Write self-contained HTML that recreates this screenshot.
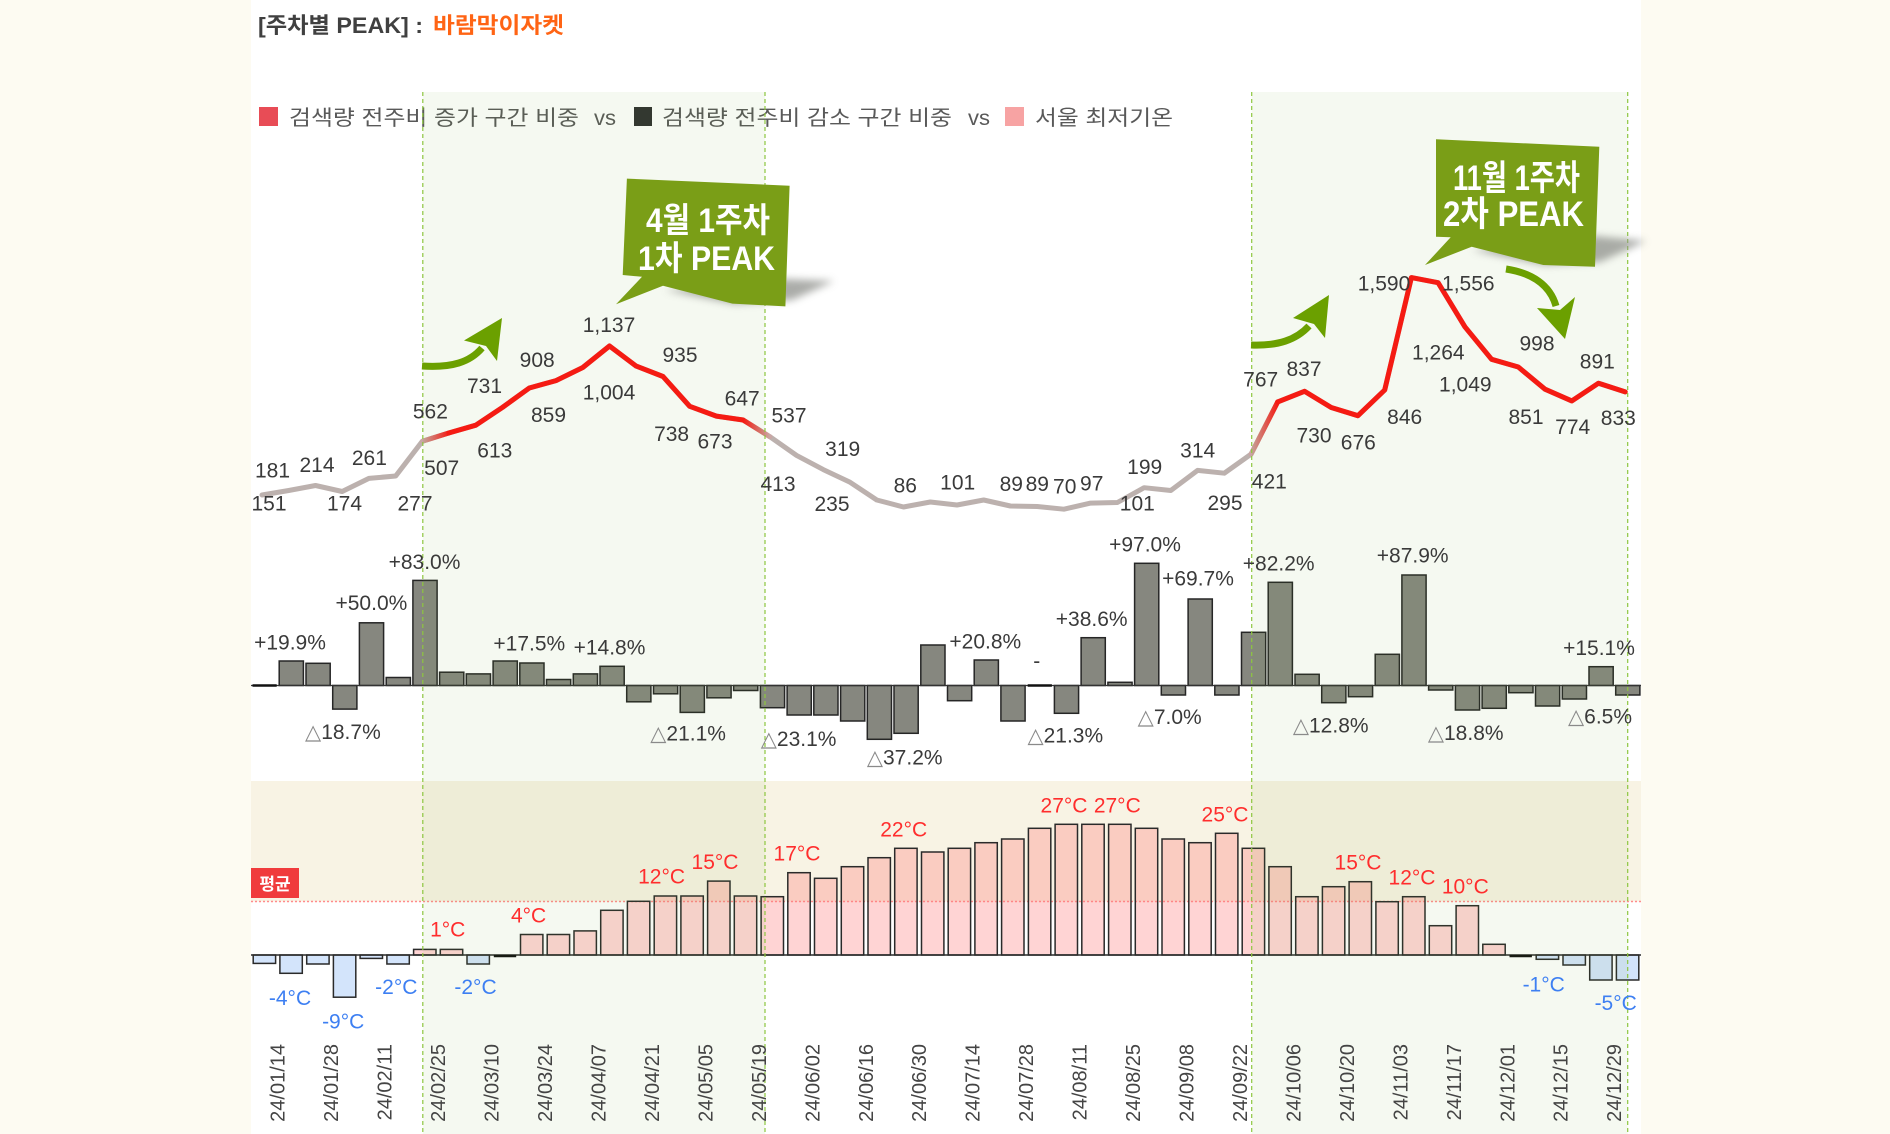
<!DOCTYPE html>
<html><head><meta charset="utf-8"><style>
html,body{margin:0;padding:0;background:#fdfbf2;}
svg{display:block;}
.n{font-family:"Liberation Sans","DejaVu Sans",sans-serif;font-size:21px;fill:#3a3a3a;text-anchor:middle;}
.p{font-family:"Liberation Sans","DejaVu Sans",sans-serif;font-size:21px;fill:#3a3a3a;text-anchor:middle;}
.tri{fill:#8a8a8a;font-family:"DejaVu Sans",sans-serif;}
.tr{font-family:"Liberation Sans","DejaVu Sans",sans-serif;font-size:21px;fill:#ff2d2d;text-anchor:middle;}
.tb{font-family:"Liberation Sans","DejaVu Sans",sans-serif;font-size:21px;fill:#3d7ff2;text-anchor:middle;}
.ax{font-family:"Liberation Sans","DejaVu Sans",sans-serif;font-size:20px;fill:#444;text-anchor:end;}
.kr{font-family:"Liberation Sans","Noto Sans CJK KR",sans-serif;}
</style></head><body>
<svg width="1890" height="1134" viewBox="0 0 1890 1134" xmlns="http://www.w3.org/2000/svg">
<defs>
<linearGradient id="g1" gradientUnits="userSpaceOnUse" x1="422.4" y1="0" x2="449.1" y2="0"><stop offset="0" stop-color="#c9a7a5"/><stop offset="1" stop-color="#ff1111"/></linearGradient>
<linearGradient id="g2" gradientUnits="userSpaceOnUse" x1="743.1" y1="0" x2="769.9" y2="0"><stop offset="0" stop-color="#ff1111"/><stop offset="1" stop-color="#c9a7a5"/></linearGradient>
<linearGradient id="g3" gradientUnits="userSpaceOnUse" x1="1251" y1="0" x2="1277.7" y2="0"><stop offset="0" stop-color="#c9a7a5"/><stop offset="1" stop-color="#ff1111"/></linearGradient>
<filter id="bl" x="-20%" y="-50%" width="140%" height="200%"><feGaussianBlur stdDeviation="4"/></filter>
</defs>
<rect x="0" y="0" width="1890" height="1134" fill="#fdfbf2"/>
<rect x="251" y="0" width="1390" height="1134" fill="#ffffff"/>

<!-- title -->
<text x="258" y="33" class="kr" font-size="22" font-weight="bold" fill="#404040" textLength="165" lengthAdjust="spacingAndGlyphs">[주차별 PEAK] :</text>
<text x="433" y="33" class="kr" font-size="22" font-weight="bold" fill="#ff6414" textLength="131" lengthAdjust="spacingAndGlyphs">바람막이자켓</text>

<!-- legend -->
<rect x="259" y="107" width="19" height="19" fill="#e84c56"/>
<text x="289" y="125" class="kr" font-size="21" fill="#595959" textLength="290" lengthAdjust="spacingAndGlyphs">검색량 전주비 증가 구간 비중</text>
<text x="594" y="125" class="kr" font-size="21" fill="#595959" textLength="22" lengthAdjust="spacingAndGlyphs">vs</text>
<rect x="634" y="107" width="18" height="19" fill="#2f3030"/>
<text x="662" y="125" class="kr" font-size="21" fill="#595959" textLength="290" lengthAdjust="spacingAndGlyphs">검색량 전주비 감소 구간 비중</text>
<text x="968" y="125" class="kr" font-size="21" fill="#595959" textLength="22" lengthAdjust="spacingAndGlyphs">vs</text>
<rect x="1005" y="107" width="19" height="19" fill="#f7a3a3"/>
<text x="1035" y="125" class="kr" font-size="21" fill="#595959" textLength="138" lengthAdjust="spacingAndGlyphs">서울 최저기온</text>

<!-- temperature band -->
<rect x="251" y="781" width="1390" height="120.5" fill="#f8f3e4"/>
<line x1="251" y1="901.5" x2="1641" y2="901.5" stroke="#ff8c8c" stroke-width="1.5" stroke-dasharray="2,2"/>

<!-- middle bars -->
<g fill="#86877f" stroke="#262626" stroke-width="1.5">
<rect x="279.2" y="661.0" width="24.2" height="24.5"/>
<rect x="306.0" y="663.3" width="24.2" height="22.2"/>
<rect x="332.7" y="685.5" width="24.2" height="23.6"/>
<rect x="359.4" y="622.8" width="24.2" height="62.7"/>
<rect x="386.2" y="677.5" width="24.2" height="8"/>
<rect x="412.9" y="580.4" width="24.2" height="105.1"/>
<rect x="439.6" y="672.2" width="24.2" height="13.3"/>
<rect x="466.3" y="673.9" width="24.2" height="11.6"/>
<rect x="493.1" y="661.0" width="24.2" height="24.5"/>
<rect x="519.8" y="663.0" width="24.2" height="22.5"/>
<rect x="546.5" y="679.5" width="24.2" height="6"/>
<rect x="573.3" y="673.9" width="24.2" height="11.6"/>
<rect x="600.0" y="666.3" width="24.2" height="19.2"/>
<rect x="626.7" y="685.5" width="24.2" height="16.3"/>
<rect x="653.5" y="685.5" width="24.2" height="8.3"/>
<rect x="680.2" y="685.5" width="24.2" height="26.9"/>
<rect x="706.9" y="685.5" width="24.2" height="12.3"/>
<rect x="733.6" y="685.5" width="24.2" height="5"/>
<rect x="760.4" y="685.5" width="24.2" height="22.2"/>
<rect x="787.1" y="685.5" width="24.2" height="29.5"/>
<rect x="813.8" y="685.5" width="24.2" height="29.5"/>
<rect x="840.6" y="685.5" width="24.2" height="35.5"/>
<rect x="867.3" y="685.5" width="24.2" height="53.8"/>
<rect x="894.0" y="685.5" width="24.2" height="47.8"/>
<rect x="920.8" y="645" width="24.2" height="40.5"/>
<rect x="947.5" y="685.5" width="24.2" height="15.2"/>
<rect x="974.2" y="660" width="24.2" height="25.5"/>
<rect x="1000.9" y="685.5" width="24.2" height="35.5"/>
<rect x="1054.4" y="685.5" width="24.2" height="27.8"/>
<rect x="1081.1" y="637.7" width="24.2" height="47.8"/>
<rect x="1107.9" y="682.3" width="24.2" height="3.2"/>
<rect x="1134.6" y="563.3" width="24.2" height="122.2"/>
<rect x="1161.3" y="685.5" width="24.2" height="9.5"/>
<rect x="1188.1" y="599" width="24.2" height="86.5"/>
<rect x="1214.8" y="685.5" width="24.2" height="9.5"/>
<rect x="1241.5" y="632.3" width="24.2" height="53.2"/>
<rect x="1268.2" y="582.3" width="24.2" height="103.2"/>
<rect x="1295.0" y="674.3" width="24.2" height="11.2"/>
<rect x="1321.7" y="685.5" width="24.2" height="17.2"/>
<rect x="1348.4" y="685.5" width="24.2" height="11.2"/>
<rect x="1375.2" y="654.3" width="24.2" height="31.2"/>
<rect x="1401.9" y="575" width="24.2" height="110.5"/>
<rect x="1428.6" y="685.5" width="24.2" height="4.5"/>
<rect x="1455.4" y="685.5" width="24.2" height="24.5"/>
<rect x="1482.1" y="685.5" width="24.2" height="22.8"/>
<rect x="1508.8" y="685.5" width="24.2" height="7.2"/>
<rect x="1535.5" y="685.5" width="24.2" height="20.5"/>
<rect x="1562.3" y="685.5" width="24.2" height="13.5"/>
<rect x="1589.0" y="666.7" width="24.2" height="18.8"/>
<rect x="1615.7" y="685.5" width="24.2" height="9.5"/>
</g>
<line x1="251" y1="685.5" x2="1641" y2="685.5" stroke="#333" stroke-width="1.3"/>
<line x1="252.5" y1="685.5" x2="276.7" y2="685.5" stroke="#111" stroke-width="2.5"/>
<line x1="1027.7" y1="685.5" x2="1051.9" y2="685.5" stroke="#111" stroke-width="2.5"/>

<!-- temperature bars -->
<g stroke="#2a2a2a" stroke-width="1.5">
<g fill="rgba(150,190,245,0.42)">
<rect x="253.2" y="955" width="22.4" height="8.4"/>
<rect x="279.9" y="955" width="22.4" height="18.3"/>
<rect x="306.7" y="955" width="22.4" height="9"/>
<rect x="333.4" y="955" width="22.4" height="42.2"/>
<rect x="360.1" y="955" width="22.4" height="3.4"/>
<rect x="386.9" y="955" width="22.4" height="9"/>
<rect x="467.0" y="955" width="22.4" height="9"/>
<rect x="1536.2" y="955" width="22.4" height="4.3"/>
<rect x="1563.0" y="955" width="22.4" height="10"/>
<rect x="1589.7" y="955" width="22.4" height="25"/>
<rect x="1616.4" y="955" width="22.4" height="25"/>
</g>
<g fill="rgba(255,120,120,0.32)">
<rect x="413.6" y="949.4" width="22.4" height="5.6"/>
<rect x="440.3" y="949.4" width="22.4" height="5.6"/>
<rect x="520.5" y="934.5" width="22.4" height="20.5"/>
<rect x="547.2" y="934.5" width="22.4" height="20.5"/>
<rect x="574.0" y="930.9" width="22.4" height="24.1"/>
<rect x="600.7" y="910.3" width="22.4" height="44.7"/>
<rect x="627.4" y="901.3" width="22.4" height="53.7"/>
<rect x="654.2" y="896" width="22.4" height="59"/>
<rect x="680.9" y="896" width="22.4" height="59"/>
<rect x="707.6" y="881.1" width="22.4" height="73.9"/>
<rect x="734.3" y="896" width="22.4" height="59"/>
<rect x="761.1" y="896.7" width="22.4" height="58.3"/>
<rect x="787.8" y="872.7" width="22.4" height="82.3"/>
<rect x="814.5" y="878.3" width="22.4" height="76.7"/>
<rect x="841.3" y="866.7" width="22.4" height="88.3"/>
<rect x="868.0" y="857.7" width="22.4" height="97.3"/>
<rect x="894.7" y="848.3" width="22.4" height="106.7"/>
<rect x="921.5" y="852" width="22.4" height="103"/>
<rect x="948.2" y="848.3" width="22.4" height="106.7"/>
<rect x="974.9" y="842.7" width="22.4" height="112.3"/>
<rect x="1001.6" y="839" width="22.4" height="116"/>
<rect x="1028.4" y="828.3" width="22.4" height="126.7"/>
<rect x="1055.1" y="824.3" width="22.4" height="130.7"/>
<rect x="1081.8" y="824.3" width="22.4" height="130.7"/>
<rect x="1108.6" y="824.3" width="22.4" height="130.7"/>
<rect x="1135.3" y="828.3" width="22.4" height="126.7"/>
<rect x="1162.0" y="839" width="22.4" height="116"/>
<rect x="1188.8" y="842.7" width="22.4" height="112.3"/>
<rect x="1215.5" y="833.3" width="22.4" height="121.7"/>
<rect x="1242.2" y="848.3" width="22.4" height="106.7"/>
<rect x="1268.9" y="866.7" width="22.4" height="88.3"/>
<rect x="1295.7" y="896.7" width="22.4" height="58.3"/>
<rect x="1322.4" y="886.7" width="22.4" height="68.3"/>
<rect x="1349.1" y="881.7" width="22.4" height="73.3"/>
<rect x="1375.9" y="901.7" width="22.4" height="53.3"/>
<rect x="1402.6" y="896.7" width="22.4" height="58.3"/>
<rect x="1429.3" y="925.7" width="22.4" height="29.3"/>
<rect x="1456.1" y="905.7" width="22.4" height="49.3"/>
<rect x="1482.8" y="944.3" width="22.4" height="10.7"/>
</g>
</g>
<line x1="251" y1="955" x2="1641" y2="955" stroke="#2a2a2a" stroke-width="1.6"/>
<line x1="493.8" y1="956" x2="516.2" y2="956" stroke="#111" stroke-width="2.5"/>
<line x1="1509.5" y1="956" x2="1531.9" y2="956" stroke="#111" stroke-width="2.5"/>

<!-- line -->
<g fill="none" stroke-width="5" stroke-linejoin="round" stroke-linecap="round">
<polyline stroke="#bcb1ae" points="262.0,495.0 288.7,490.5 315.5,485.5 342.2,491.5 368.9,478.4 395.7,476.0 422.4,441.2 449.1,432.9 475.8,425.2 502.6,407.3 529.3,388.0 556.0,380.6 582.8,367.5 609.5,346.0 636.2,366.1 663.0,376.5 689.7,406.3 716.4,416.1 743.1,420.0 769.9,436.7 796.6,455.4 823.3,469.6 850.1,482.3 876.8,500 903.5,507 930.3,502 957.0,505 983.7,500 1010.4,506 1037.2,506.5 1063.9,509.2 1090.6,503.1 1117.4,502.5 1144.1,487.7 1170.8,490.5 1197.6,470.4 1224.3,473.2 1251.0,454.2 1277.7,401.9 1304.5,391.3 1331.2,407.5 1357.9,415.7 1384.7,390.0 1411.4,277.6 1438.1,282.7 1464.9,326.8 1491.6,359.3 1518.3,367.0 1545.0,389.2 1571.8,400.9 1598.5,383.2 1625.2,391.9"/>
<line x1="422.4" y1="441.2" x2="449.1" y2="432.9" stroke="url(#g1)"/>
<polyline stroke="#ff1111" points="449.1,432.9 475.8,425.2 502.6,407.3 529.3,388.0 556.0,380.6 582.8,367.5 609.5,346.0 636.2,366.1 663.0,376.5 689.7,406.3 716.4,416.1 743.1,420.0"/>
<line x1="743.1" y1="420.0" x2="769.9" y2="436.7" stroke="url(#g2)"/>
<line x1="1251.0" y1="454.2" x2="1277.7" y2="401.9" stroke="url(#g3)"/>
<polyline stroke="#ff1111" points="1277.7,401.9 1304.5,391.3 1331.2,407.5 1357.9,415.7 1384.7,390.0 1411.4,277.6 1438.1,282.7 1464.9,326.8 1491.6,359.3 1518.3,367.0 1545.0,389.2 1571.8,400.9 1598.5,383.2 1625.2,391.9"/>
</g>

<!-- green overlays -->
<rect x="422.8" y="92" width="342.2" height="1042" fill="rgba(120,170,50,0.07)"/>
<rect x="1251.7" y="92" width="376" height="1042" fill="rgba(120,170,50,0.07)"/>
<g stroke="#8dc63f" stroke-width="1.2" stroke-dasharray="4,3">
<line x1="422.8" y1="92" x2="422.8" y2="1134"/>
<line x1="765" y1="92" x2="765" y2="1134"/>
<line x1="1251.7" y1="92" x2="1251.7" y2="1134"/>
<line x1="1627.7" y1="92" x2="1627.7" y2="1134"/>
</g>

<!-- line labels -->
<g class="n">
<text x="272.5" y="477.5">181</text>
<text x="317" y="471.8">214</text>
<text x="369.4" y="464.8">261</text>
<text x="269" y="510.6">151</text>
<text x="344.5" y="510.6">174</text>
<text x="415" y="510.6">277</text>
<text x="430.4" y="418.4">562</text>
<text x="441.7" y="475">507</text>
<text x="484.5" y="392.9">731</text>
<text x="494.8" y="457.5">613</text>
<text x="537.2" y="367">908</text>
<text x="548.5" y="422">859</text>
<text x="609" y="332.2">1,137</text>
<text x="609" y="399.5">1,004</text>
<text x="680" y="362">935</text>
<text x="671.6" y="441">738</text>
<text x="715" y="448.6">673</text>
<text x="742.2" y="405.5">647</text>
<text x="789" y="422.7">537</text>
<text x="778" y="491">413</text>
<text x="842.7" y="456">319</text>
<text x="832" y="511">235</text>
<text x="905.3" y="492.7">86</text>
<text x="957.7" y="489.3">101</text>
<text x="1011.3" y="491">89</text>
<text x="1037.3" y="491">89</text>
<text x="1064.7" y="493.3">70</text>
<text x="1091.7" y="490.7">97</text>
<text x="1137.3" y="510.7">101</text>
<text x="1144.7" y="474">199</text>
<text x="1197.7" y="457.3">314</text>
<text x="1225" y="510">295</text>
<text x="1260.7" y="386.7">767</text>
<text x="1304" y="376">837</text>
<text x="1269.3" y="488.3">421</text>
<text x="1314" y="442.7">730</text>
<text x="1358.3" y="449.3">676</text>
<text x="1404.7" y="424">846</text>
<text x="1384" y="290.7">1,590</text>
<text x="1468.3" y="290.7">1,556</text>
<text x="1438.3" y="359.3">1,264</text>
<text x="1465.3" y="391.7">1,049</text>
<text x="1537" y="350.7">998</text>
<text x="1597.3" y="368.3">891</text>
<text x="1526" y="424">851</text>
<text x="1572.7" y="434">774</text>
<text x="1618.3" y="425">833</text>
</g>

<!-- bar % labels -->
<g class="p">
<text x="290" y="649.4">+19.9%</text>
<text x="371.4" y="610.2">+50.0%</text>
<text x="424.5" y="568.8">+83.0%</text>
<text x="342.9" y="738.9"><tspan class="tri">△</tspan>18.7%</text>
<text x="529.3" y="650.3">+17.5%</text>
<text x="609.5" y="654.3">+14.8%</text>
<text x="688.1" y="740.6"><tspan class="tri">△</tspan>21.1%</text>
<text x="798.6" y="746"><tspan class="tri">△</tspan>23.1%</text>
<text x="904.7" y="764.3"><tspan class="tri">△</tspan>37.2%</text>
<text x="985.3" y="648.3">+20.8%</text>
<text x="1036.7" y="668">-</text>
<text x="1065.3" y="742.7"><tspan class="tri">△</tspan>21.3%</text>
<text x="1091.7" y="626">+38.6%</text>
<text x="1145" y="551.7">+97.0%</text>
<text x="1198" y="585.7">+69.7%</text>
<text x="1169.7" y="724"><tspan class="tri">△</tspan>7.0%</text>
<text x="1278.7" y="570.7">+82.2%</text>
<text x="1412.7" y="562.7">+87.9%</text>
<text x="1330.7" y="732.7"><tspan class="tri">△</tspan>12.8%</text>
<text x="1465.7" y="740"><tspan class="tri">△</tspan>18.8%</text>
<text x="1599" y="655">+15.1%</text>
<text x="1600" y="723.3"><tspan class="tri">△</tspan>6.5%</text>
</g>

<!-- temperature labels -->
<g class="tb">
<text x="290" y="1004.8">-4°C</text>
<text x="343.2" y="1028.7">-9°C</text>
<text x="396.3" y="993.9">-2°C</text>
<text x="475.5" y="993.9">-2°C</text>
<text x="1543.7" y="991.7">-1°C</text>
<text x="1615.7" y="1010">-5°C</text>
</g>
<g class="tr">
<text x="447.7" y="936.5">1°C</text>
<text x="528.6" y="922.6">4°C</text>
<text x="661.6" y="883.4">12°C</text>
<text x="715" y="868.8">15°C</text>
<text x="797" y="860.7">17°C</text>
<text x="903.7" y="836.7">22°C</text>
<text x="1064" y="812.7">27°C</text>
<text x="1117.3" y="812.7">27°C</text>
<text x="1225" y="821.7">25°C</text>
<text x="1358" y="869.3">15°C</text>
<text x="1412" y="884.3">12°C</text>
<text x="1465.3" y="893.3">10°C</text>
</g>

<!-- 평균 -->
<rect x="251" y="868" width="48" height="30" fill="#f03b3c"/>
<text x="275" y="890" class="kr" font-size="17" font-weight="bold" fill="#ffffff" text-anchor="middle">평균</text>

<!-- x axis labels -->
<g class="ax">
<text transform="translate(277.7,1044) rotate(-90)" dy="7">24/01/14</text>
<text transform="translate(331.2,1044) rotate(-90)" dy="7">24/01/28</text>
<text transform="translate(384.6,1044) rotate(-90)" dy="7">24/02/11</text>
<text transform="translate(438.1,1044) rotate(-90)" dy="7">24/02/25</text>
<text transform="translate(491.5,1044) rotate(-90)" dy="7">24/03/10</text>
<text transform="translate(545.0,1044) rotate(-90)" dy="7">24/03/24</text>
<text transform="translate(598.5,1044) rotate(-90)" dy="7">24/04/07</text>
<text transform="translate(651.9,1044) rotate(-90)" dy="7">24/04/21</text>
<text transform="translate(705.4,1044) rotate(-90)" dy="7">24/05/05</text>
<text transform="translate(758.8,1044) rotate(-90)" dy="7">24/05/19</text>
<text transform="translate(812.3,1044) rotate(-90)" dy="7">24/06/02</text>
<text transform="translate(865.8,1044) rotate(-90)" dy="7">24/06/16</text>
<text transform="translate(919.2,1044) rotate(-90)" dy="7">24/06/30</text>
<text transform="translate(972.7,1044) rotate(-90)" dy="7">24/07/14</text>
<text transform="translate(1026.1,1044) rotate(-90)" dy="7">24/07/28</text>
<text transform="translate(1079.6,1044) rotate(-90)" dy="7">24/08/11</text>
<text transform="translate(1133.1,1044) rotate(-90)" dy="7">24/08/25</text>
<text transform="translate(1186.5,1044) rotate(-90)" dy="7">24/09/08</text>
<text transform="translate(1240.0,1044) rotate(-90)" dy="7">24/09/22</text>
<text transform="translate(1293.4,1044) rotate(-90)" dy="7">24/10/06</text>
<text transform="translate(1346.9,1044) rotate(-90)" dy="7">24/10/20</text>
<text transform="translate(1400.4,1044) rotate(-90)" dy="7">24/11/03</text>
<text transform="translate(1453.8,1044) rotate(-90)" dy="7">24/11/17</text>
<text transform="translate(1507.3,1044) rotate(-90)" dy="7">24/12/01</text>
<text transform="translate(1560.7,1044) rotate(-90)" dy="7">24/12/15</text>
<text transform="translate(1614.2,1044) rotate(-90)" dy="7">24/12/29</text>
</g>

<!-- arrows -->
<g fill="none" stroke="#6ba000" stroke-width="7">
<path d="M422,366 C452,368 470,362 482,348"/>
<path d="M1251,345 C1278,346 1296,340 1309,326"/>
<path d="M1506,269 C1532,273 1550,285 1556,306"/>
</g>
<g fill="#6ba000">
<polygon points="464,340.5 502,318 497,361 486,346"/>
<polygon points="1293,318 1329,295 1325,338 1314,324"/>
<polygon points="1537,308 1565,339 1575,297 1560,310"/>
</g>

<!-- callout shadows -->
<polygon points="665,290 785,279 834,281 792,300 735,304" fill="#8f918c" opacity="0.75" filter="url(#bl)"/>
<polygon points="1472,250 1595,236 1646,241 1600,262 1545,265" fill="#8f918c" opacity="0.75" filter="url(#bl)"/>

<!-- callouts -->
<polygon points="626.9,178.6 789.6,185.7 785.4,306.4 732.4,303.6 663,285.7 616,304.3 642,276.8 622.7,275" fill="#7a9e17"/>
<text x="646" y="232" class="kr" font-size="34" font-weight="bold" fill="#ffffff" textLength="124" lengthAdjust="spacingAndGlyphs">4월 1주차</text>
<text x="638" y="270" class="kr" font-size="34" font-weight="bold" fill="#ffffff" textLength="137" lengthAdjust="spacingAndGlyphs">1차 PEAK</text>

<polygon points="1436,139.3 1599.3,146.7 1595,266.7 1543.3,265 1471.7,246.7 1425,265 1450.7,237.3 1436,236.7" fill="#7a9e17"/>
<text x="1453" y="190" class="kr" font-size="35" font-weight="bold" fill="#ffffff" textLength="127" lengthAdjust="spacingAndGlyphs">11월 1주차</text>
<text x="1443" y="226" class="kr" font-size="35" font-weight="bold" fill="#ffffff" textLength="141" lengthAdjust="spacingAndGlyphs">2차 PEAK</text>
</svg>
</body></html>
